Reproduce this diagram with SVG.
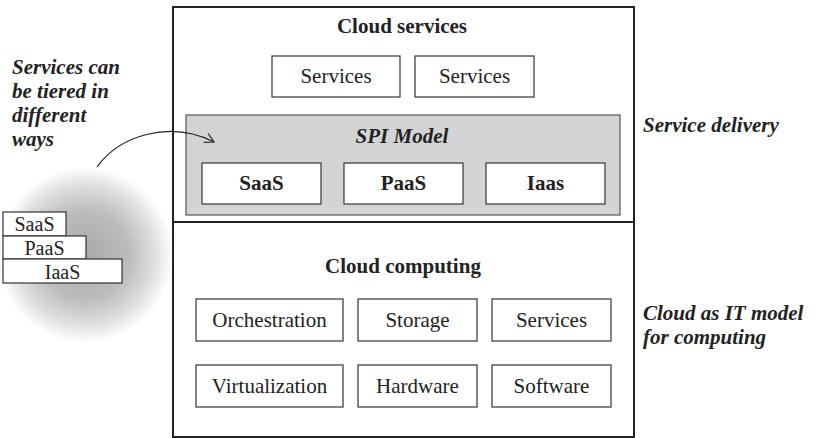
<svg xmlns="http://www.w3.org/2000/svg" width="817" height="438" viewBox="0 0 817 438">
<defs>
<radialGradient id="glow" cx="0.5" cy="0.5" r="0.5">
<stop offset="0" stop-color="#a8a8a8"/>
<stop offset="0.5" stop-color="#bcbcbc"/>
<stop offset="0.8" stop-color="#e0e0e0"/>
<stop offset="1" stop-color="#ffffff"/>
</radialGradient>
<marker id="arr" markerWidth="12" markerHeight="12" refX="10" refY="6" orient="auto" markerUnits="userSpaceOnUse">
<path d="M1,1 L10,6 L1,11" fill="none" stroke="#222" stroke-width="1.2"/>
</marker>
</defs>
<rect width="817" height="438" fill="#fff"/>
<circle cx="85" cy="255" r="88" fill="url(#glow)"/>
<g id="outer">
<rect x="173" y="7" width="461" height="430" fill="none" stroke="#222" stroke-width="2"/>
<line x1="173" y1="222" x2="634" y2="222" stroke="#222" stroke-width="2"/>
</g>
<g font-family="Liberation Serif" fill="#222" font-size="21" text-anchor="middle">
<g id="cloud-services">
<text x="402" y="33" font-weight="bold">Cloud services</text>
</g>
<g id="services1"><rect x="272" y="56" width="128" height="41" fill="#fff" stroke="#333" stroke-width="1.2"/><text x="336" y="83">Services</text></g>
<g id="services2"><rect x="415" y="56" width="119" height="41" fill="#fff" stroke="#333" stroke-width="1.2"/><text x="474.5" y="83">Services</text></g>
<g id="spi">
<rect x="186" y="115" width="434" height="100" fill="#d4d4d6" stroke="#555" stroke-width="1.2"/>
<text x="402" y="143" font-weight="bold" font-style="italic">SPI Model</text>
</g>
<g id="saas"><rect x="202" y="163" width="119" height="41" fill="#fff" stroke="#333" stroke-width="1.2"/><text x="261.5" y="190" font-weight="bold">SaaS</text></g>
<g id="paas"><rect x="344" y="163" width="119" height="41" fill="#fff" stroke="#333" stroke-width="1.2"/><text x="403.5" y="190" font-weight="bold">PaaS</text></g>
<g id="iaas"><rect x="486" y="163" width="119" height="41" fill="#fff" stroke="#333" stroke-width="1.2"/><text x="545.5" y="190" font-weight="bold">Iaas</text></g>
<g id="cloud-computing">
<text x="403" y="273" font-weight="bold">Cloud computing</text>
</g>
<g id="orchestration"><rect x="196" y="299" width="147" height="42" fill="#fff" stroke="#333" stroke-width="1.2"/><text x="269.5" y="327">Orchestration</text></g>
<g id="storage"><rect x="358" y="299" width="119" height="42" fill="#fff" stroke="#333" stroke-width="1.2"/><text x="417.5" y="327">Storage</text></g>
<g id="services3"><rect x="492" y="299" width="119" height="42" fill="#fff" stroke="#333" stroke-width="1.2"/><text x="551.5" y="327">Services</text></g>
<g id="virtualization"><rect x="196" y="365" width="147" height="42" fill="#fff" stroke="#333" stroke-width="1.2"/><text x="269.5" y="393">Virtualization</text></g>
<g id="hardware"><rect x="358" y="365" width="119" height="42" fill="#fff" stroke="#333" stroke-width="1.2"/><text x="417.5" y="393">Hardware</text></g>
<g id="software"><rect x="492" y="365" width="119" height="42" fill="#fff" stroke="#333" stroke-width="1.2"/><text x="551.5" y="393">Software</text></g>
<g id="stack" font-size="20">
<rect x="3" y="212" width="63" height="24" fill="#fff" stroke="#333" stroke-width="1.2"/><text x="34.5" y="231">SaaS</text>
<rect x="3" y="236" width="83" height="23" fill="#fff" stroke="#333" stroke-width="1.2"/><text x="44.5" y="255">PaaS</text>
<rect x="3" y="259" width="119" height="24" fill="#fff" stroke="#333" stroke-width="1.2"/><text x="62.5" y="279">IaaS</text>
</g>
</g>
<g font-family="Liberation Serif" fill="#222" font-size="21" font-weight="bold" font-style="italic">
<g id="left-label">
<text><tspan x="12" y="74">Services can</tspan><tspan x="12" y="98">be tiered in</tspan><tspan x="12" y="122">different</tspan><tspan x="12" y="146">ways</tspan></text>
</g>
<g id="right-labels">
<text x="643" y="132">Service delivery</text>
<text><tspan x="643" y="320">Cloud as IT model</tspan><tspan x="643" y="344">for computing</tspan></text>
</g>
</g>
<g id="connectors">
<path d="M97,167 C120,135 170,120 214,142" fill="none" stroke="#222" stroke-width="1.2" marker-end="url(#arr)"/>
</g>
</svg>
